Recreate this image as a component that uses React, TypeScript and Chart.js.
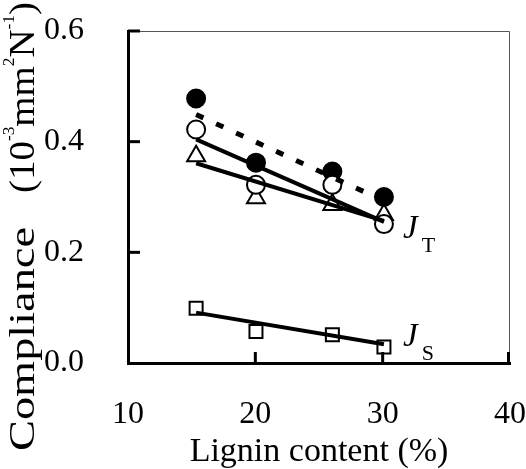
import { useEffect, useRef } from 'react';
import { Chart, registerables } from 'chart.js';

Chart.register(...registerables);

// ---- data ----
const ligninContent = [15.35, 20.05, 26.05, 30.1];
const filledCircles = [0.478, 0.362, 0.346, 0.3];
const openCircles = [0.422, 0.322, 0.322, 0.251];
const triangles = [0.374, 0.298, 0.286, 0.268];
const squares = [0.099, 0.057, 0.051, 0.029];

const fitX = [15.35, 30.1];
const fitFilled = [0.449, 0.293];
const fitOpen = [0.404, 0.255];
const fitTriangle = [0.361, 0.257];
const fitSquare = [0.091, 0.034];

const xTickValues = [10, 20, 30, 40];
const yTickValues = [0, 0.2, 0.4, 0.6];

const xTitle = 'Lignin content (%)';
const yTitleMain = 'Compliance';
const yTitleUnit: [string, boolean][] = [
  ['(10', false],
  ['-3', true],
  ['mm', false],
  ['2', true],
  ['N', false],
  ['-1', true],
  [')', false],
];
const seriesLabels = [
  { main: 'J', sub: 'T', x: 31.6, y: 0.226 },
  { main: 'J', sub: 'S', x: 31.6, y: 0.031 },
];

const FONT = '"Liberation Serif", "Times New Roman", serif';

const pts = (xs: number[], ys: number[]) => xs.map((x, i) => ({ x, y: ys[i] }));

const decorPlugin = {
  id: 'decor',
  afterDraw(chart: any) {
    const { ctx, chartArea, scales } = chart;
    const xs = scales.x;
    const ys = scales.y;
    ctx.save();
    // thin top/right frame
    ctx.strokeStyle = '#555';
    ctx.lineWidth = 1;
    ctx.beginPath();
    ctx.moveTo(chartArea.left, chartArea.top + 0.5);
    ctx.lineTo(chartArea.right - 0.5, chartArea.top + 0.5);
    ctx.lineTo(chartArea.right - 0.5, chartArea.bottom);
    ctx.stroke();

    // inside tick marks
    ctx.strokeStyle = '#000';
    ctx.lineWidth = 3;
    yTickValues.forEach((v) => {
      if (v === yTickValues[0]) return;
      const py = ys.getPixelForValue(v);
      ctx.beginPath();
      ctx.moveTo(chartArea.left, py);
      ctx.lineTo(chartArea.left + 12, py);
      ctx.stroke();
    });
    xTickValues.forEach((v) => {
      if (v === xTickValues[0]) return;
      const px = Math.min(xs.getPixelForValue(v), chartArea.right - 1.5);
      ctx.beginPath();
      ctx.moveTo(px, chartArea.bottom);
      ctx.lineTo(px, chartArea.bottom - 11);
      ctx.stroke();
    });

    // y title (rotated, with superscripts)
    ctx.fillStyle = '#000';
    ctx.textBaseline = 'alphabetic';
    ctx.textAlign = 'left';
    ctx.translate(34, 451);
    ctx.rotate(-Math.PI / 2);
    ctx.font = `36px ${FONT}`;
    const wMain = ctx.measureText(yTitleMain).width;
    ctx.save();
    ctx.scale(224 / wMain, 1);
    ctx.fillText(yTitleMain, 0, 0);
    ctx.restore();
    let total = 0;
    const widths = yTitleUnit.map(([t, sup]) => {
      ctx.font = `${sup ? 16 : 36}px ${FONT}`;
      const w = ctx.measureText(t).width;
      total += w;
      return w;
    });
    ctx.save();
    ctx.translate(258, 0);
    ctx.scale(191 / total, 1);
    let cx = 0;
    yTitleUnit.forEach(([t, sup], i) => {
      ctx.font = `${sup ? 16 : 36}px ${FONT}`;
      ctx.fillText(t, cx, sup ? -20 : 0);
      cx += widths[i];
    });
    ctx.restore();
    ctx.restore();

    // series labels J_T, J_S
    ctx.save();
    ctx.fillStyle = '#000';
    ctx.textBaseline = 'alphabetic';
    ctx.textAlign = 'left';
    seriesLabels.forEach((l) => {
      const px = xs.getPixelForValue(l.x);
      const py = ys.getPixelForValue(l.y);
      ctx.font = `italic 33px ${FONT}`;
      ctx.fillText(l.main, px, py);
      const w = ctx.measureText(l.main).width;
      ctx.font = `22px ${FONT}`;
      ctx.fillText(l.sub, px + w + 4, py + 14);
    });
    ctx.restore();
  },
};

export default function App() {
  const canvasRef = useRef<HTMLCanvasElement | null>(null);

  useEffect(() => {
    if (!canvasRef.current) return;
    const markerBase = {
      type: 'scatter' as const,
      showLine: false,
      borderColor: '#000',
      borderWidth: 2,
    };
    const lineBase = {
      type: 'scatter' as const,
      showLine: true,
      pointRadius: 0,
      borderColor: '#000',
      borderWidth: 4,
      fill: false,
    };
    const chart = new Chart(canvasRef.current, {
      type: 'scatter',
      data: {
        datasets: [
          { ...lineBase, label: 'fit filled', data: pts(fitX, fitFilled), borderWidth: 5, borderDash: [8, 14] },
          { ...lineBase, label: 'fit open', data: pts(fitX, fitOpen) },
          { ...lineBase, label: 'fit triangle', data: pts(fitX, fitTriangle) },
          { ...lineBase, label: 'fit square', data: pts(fitX, fitSquare) },
          { ...markerBase, label: 'open', data: pts(ligninContent, openCircles), pointStyle: 'circle', pointRadius: 9, backgroundColor: '#fff' },
          { ...markerBase, label: 'filled', data: pts(ligninContent, filledCircles), pointStyle: 'circle', pointRadius: 9, backgroundColor: '#000' },
          { ...markerBase, label: 'triangle', data: pts(ligninContent, triangles), pointStyle: 'triangle', pointRadius: 10.4, backgroundColor: '#fff' },
          { ...markerBase, label: 'square', data: pts(ligninContent, squares), pointStyle: 'rect', pointRadius: 9.2, backgroundColor: '#fff' },
        ] as any,
      },
      options: {
        animation: false,
        responsive: false,
        devicePixelRatio: 1,
        layout: { padding: { left: 0, right: 16, top: 31, bottom: 0 } },
        plugins: { legend: { display: false }, tooltip: { enabled: false } },
        scales: {
          x: {
            type: 'linear',
            min: 10,
            max: 40,
            afterBuildTicks: (s: any) => {
              s.ticks = xTickValues.map((v) => ({ value: v }));
            },
            afterFit: (s: any) => {
              s.height = 106;
              s.paddingLeft = 0;
              s.paddingRight = 0;
              s.paddingTop = 0;
              s.paddingBottom = 0;
            },
            grid: { display: false },
            border: { display: true, width: 3, color: '#000' },
            ticks: {
              padding: 24,
              color: '#000',
              font: { family: FONT, size: 32 },
              maxRotation: 0,
              callback: (v: any) => String(v),
            },
            title: {
              display: true,
              text: xTitle,
              color: '#000',
              font: { family: FONT, size: 34, lineHeight: 1 },
              padding: 0,
            },
          },
          y: {
            type: 'linear',
            min: 0,
            max: 0.6,
            afterBuildTicks: (s: any) => {
              s.ticks = yTickValues.map((v) => ({ value: v }));
            },
            afterFit: (s: any) => {
              s.width = 128;
              s.paddingLeft = 0;
              s.paddingRight = 0;
              s.paddingTop = 0;
              s.paddingBottom = 0;
            },
            grid: { display: false },
            border: { display: true, width: 3, color: '#000' },
            ticks: {
              padding: 36,
              color: '#000',
              font: { family: FONT, size: 32 },
              callback: (v: any) => Number(v).toFixed(1),
            },
          },
        },
      },
      plugins: [decorPlugin],
    });
    return () => chart.destroy();
  }, []);

  return (
    <div style={{ position: 'fixed', left: 0, top: 0, width: 526, height: 469, background: '#fff' }}>
      <canvas ref={canvasRef} width={526} height={469} style={{ display: 'block' }} />
    </div>
  );
}
